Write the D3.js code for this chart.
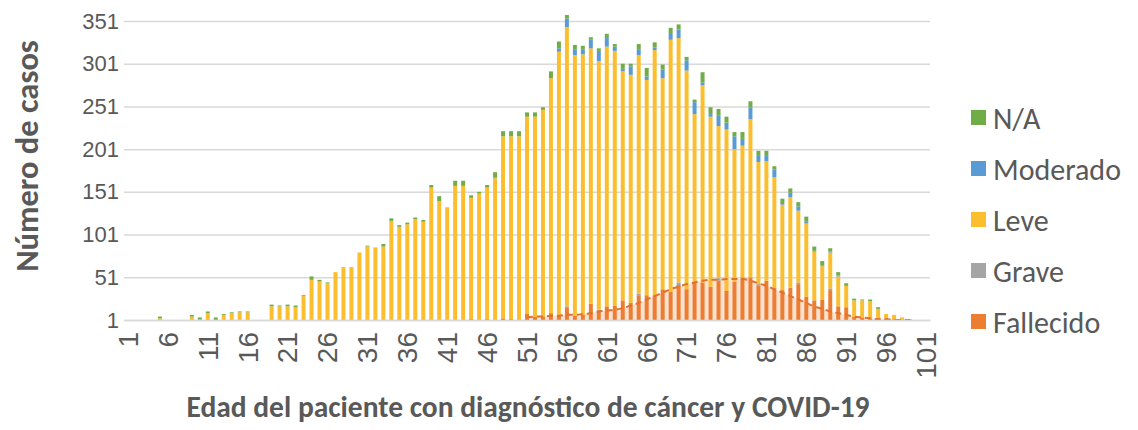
<!DOCTYPE html>
<html>
<head>
<meta charset="utf-8">
<script src="https://cdn.jsdelivr.net/npm/d3@7"></script>
<style>
  body { margin: 0; background: #fff; }
  svg { font-family: Carlito, Calibri, Lato, sans-serif; }
</style>
</head>
<body>
<svg id="svg" width="1138" height="430"></svg>
<script>
// edades 1..101
var ages = d3.range(1, 102);

// altura total de cada barra (edad 1..101)
var totals = [0,0,0,0,5,0,0,0,7,4, 11,4,8,10,11,11,0,0,19,18,
  19,18,30,52,48,45,57,63,63,80, 88,86,90,120,112,115,121,118,159,146,
  133,164,164,147,151,159,174,222,222,222, 244,244,250,292,327,358,323,322,332,319,
  336,324,301,301,324,296,326,300,343,347, 309,259,291,250,248,239,221,221,257,199,
  199,181,143,155,139,122,87,70,85,57, 44,26,25,25,16,8,7,4,2,0, 0];

var fallecido = [0,0,0,0,0,0,0,0,0,0, 0,0,0,0,0,0,0,0,0,0,
  0,0,0,0,0,0,0,0,0,0, 0,0,0,0,0,0,0,0,0,0,
  0,0,0,2,0,2,0,3,2,0, 8,5,5,9,7,15,6,7,20,11,
  17,18,24,21,30,30,30,37,34,42, 37,46,45,40,47,35,46,51,51,41,
  47,38,36,39,43,28,24,25,36,17, 16,5,4,3,4,3,2,1,0,0, 0];

var grave = [0,0,0,0,0,0,0,0,0,2, 0,0,0,0,0,0,0,0,0,0,
  0,0,0,0,0,0,0,0,0,0, 0,0,0,0,0,0,0,0,0,0,
  0,0,0,0,0,0,0,0,0,0, 0,0,0,0,0,2,0,0,0,2,
  0,0,0,0,2,0,0,0,0,3, 0,0,0,0,3,0,0,0,0,2,
  0,0,0,0,2,0,0,0,2,0, 0,0,0,0,0,0,0,0,0,0, 0];

var moderado = [0,0,0,0,0,0,0,0,0,0, 0,2,0,0,0,0,0,0,0,0,
  0,0,0,0,0,0,0,0,0,0, 0,0,0,0,0,0,0,0,0,0,
  0,0,0,0,0,0,1,0,0,0, 0,0,0,0,4,10,7,6,10,12,
  10,5,3,10,7,4,3,10,8,10, 12,14,3,3,12,8,15,8,14,8,
  7,9,2,5,5,2,1,1,1,1, 0,0,0,0,0,0,0,0,0,0, 0];

var na = [0,0,0,0,2,0,0,0,2,2, 2,2,1,1,1,1,0,0,2,1,
  2,2,1,4,2,1,0,0,0,0, 1,0,3,3,2,2,2,2,3,6,
  0,6,6,3,2,3,6,6,6,6, 5,5,3,8,8,4,5,4,3,3,
  5,3,6,3,6,10,6,6,6,6, 4,3,12,8,8,7,5,8,7,5,
  5,4,5,5,5,6,5,5,4,4, 3,2,1,2,2,0,0,0,0,0, 0];

// curva suavizada de fallecidos (edad 51..99)
var tendAges = d3.range(51, 100);
var tendencia = [4,5,5,6,6,7,7,8,9,11, 12,13,15,18,21,25,29,33,37,40,
  43,45,47,48,48,49,49,49,47,44, 41,37,33,29,25,21,17,14,11,9,
  7,5,4,3,2,2,1,1,1];

var yTicks = [1, 51, 101, 151, 201, 251, 301, 351];
var xTicks = ages.filter(function(a){ return (a - 1) % 5 == 0; });

var keys = ["Fallecido", "Grave", "Leve", "Moderado", "N/A"];
var colors = {"Fallecido": "#ED7D31", "Grave": "#A5A5A5", "Leve": "#FBBE2E",
  "Moderado": "#5B9BD5", "N/A": "#70AD47"};

var rows = ages.map(function(a, i) {
  var leve = Math.max(0, totals[i] - fallecido[i] - grave[i] - moderado[i] - na[i]);
  return {age: a, "Fallecido": fallecido[i], "Grave": grave[i], "Leve": leve,
    "Moderado": moderado[i], "N/A": na[i]};
});

var svg = d3.select("#svg");
var plotLeft = 124, plotRight = 930, plotTop = 21, plotBottom = 320;

var x = d3.scaleBand().domain(ages).range([plotLeft, plotRight]).paddingInner(0.5).paddingOuter(0.25);
var y = d3.scaleLinear().domain([1, 351]).range([plotBottom, plotTop]);

//grid + y labels
var yAxis = svg.append("g")
  .attr("transform", "translate(" + plotLeft + ",0)")
  .call(d3.axisLeft(y).tickValues(yTicks).tickSize(-(plotRight - plotLeft)).tickPadding(5).tickFormat(d3.format("d")));
yAxis.select(".domain").remove();
yAxis.selectAll("line").attr("stroke", "#d9d9d9").attr("stroke-width", 1.5);
yAxis.selectAll("text").attr("fill", "#595959").style("font-size", "22px");

// area de tendencia detras de las barras
var cx = function(a){ return x(a) + x.bandwidth() / 2; };
svg.append("path")
  .datum(tendencia)
  .attr("fill", "#F8CBAD")
  .attr("fill-opacity", 0.55)
  .attr("d", d3.area()
    .x(function(d, i){ return cx(tendAges[i]); })
    .y0(y(1))
    .y1(function(d){ return y(Math.max(1, d)); })
    .curve(d3.curveMonotoneX));

var series = d3.stack().keys(keys)(rows);
svg.append("g").selectAll("g").data(series).enter()
  .append("g")
  .attr("fill", function(s){ return colors[s.key]; })
  .selectAll("rect").data(function(s){ return s; }).enter()
  .append("rect")
  .attr("x", function(d){ return x(d.data.age); })
  .attr("width", x.bandwidth())
  .attr("y", function(d){ return y(Math.max(1, d[1])); })
  .attr("height", function(d){ return y(Math.max(1, d[0])) - y(Math.max(1, d[1])); });

// linea discontinua de tendencia
svg.append("path")
  .datum(tendencia)
  .attr("fill", "none")
  .attr("stroke", "#E0712F")
  .attr("stroke-width", 2)
  .attr("stroke-dasharray", "6,4")
  .attr("d", d3.line()
    .x(function(d, i){ return cx(tendAges[i]); })
    .y(function(d){ return y(Math.max(1, d)); })
    .curve(d3.curveMonotoneX));

//x axis
var xAxis = svg.append("g")
  .attr("transform", "translate(0," + plotBottom + ")")
  .call(d3.axisBottom(x).tickValues(xTicks).tickSize(0));
xAxis.select(".domain").attr("stroke", "#d9d9d9").attr("stroke-width", 1.5);
xAxis.selectAll("text")
  .attr("fill", "#595959")
  .style("font-size", "28px")
  .attr("text-anchor", "end")
  .attr("dy", "0.35em")
  .attr("transform", "translate(0,12) rotate(-90)")
  .attr("x", 0).attr("y", 0);

//axis titles
svg.append("text")
  .attr("x", 528).attr("y", 417)
  .attr("text-anchor", "middle")
  .attr("fill", "#595959")
  .style("font-size", "29.5px").style("font-weight", "bold")
  .text("Edad del paciente con diagnóstico de cáncer y COVID-19");

svg.append("text")
  .attr("transform", "translate(38,156) rotate(-90)")
  .attr("text-anchor", "middle")
  .attr("fill", "#595959")
  .style("font-size", "32.5px").style("font-weight", "bold")
  .text("Número de casos");

//legend
var legendKeys = keys.slice().reverse();
var legend = svg.append("g").selectAll("g").data(legendKeys).enter()
  .append("g")
  .attr("transform", function(d, i){ return "translate(971," + (117 + i * 51) + ")"; });
legend.append("rect")
  .attr("x", 0).attr("y", -7).attr("width", 15).attr("height", 15)
  .attr("fill", function(d){ return colors[d]; });
legend.append("text")
  .attr("x", 22).attr("y", 1).attr("dy", "0.35em")
  .attr("fill", "#595959")
  .style("font-size", "30px")
  .text(function(d){ return d; });
</script>
</body>
</html>
